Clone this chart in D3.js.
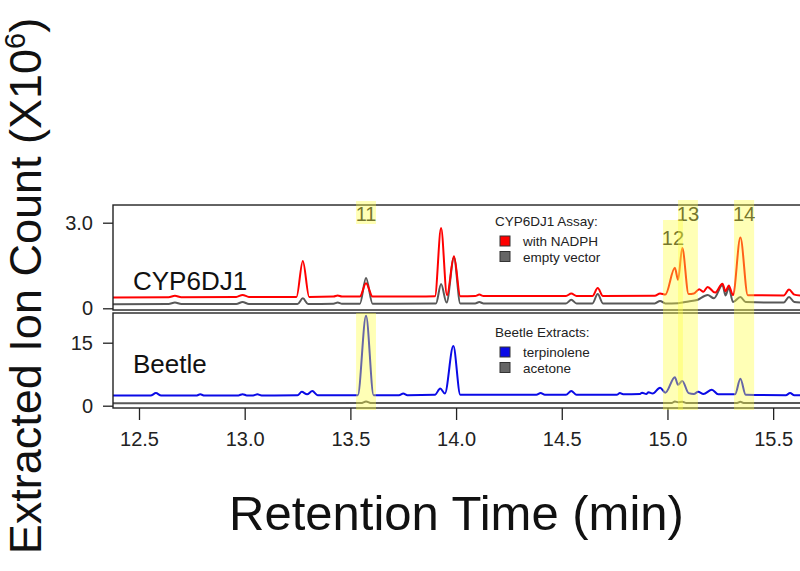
<!DOCTYPE html>
<html>
<head>
<meta charset="utf-8">
<script src="https://cdn.jsdelivr.net/npm/d3@7"></script>
<style>
	body { margin: 0; background: #fff; }
	svg { display: block; font-family: 'Liberation Sans', Arial, Helvetica, sans-serif; }
	.axis text { font-size: 20px; fill: #222; }
	.axis line { stroke: #222; stroke-width: 1.3; }
	.axis path { display: none; }
</style>
</head>
<body>
<div id="vis"></div>
<script>
// retention time (min), ion count (x10^6)
var nadphTrace = [
	[12.377, 0.38], [12.64, 0.39], [12.67, 0.44], [12.70, 0.39], [12.96, 0.40], [12.99, 0.47], [13.02, 0.40],
	[13.245, 0.40], [13.275, 1.66], [13.305, 0.40], [13.42, 0.41], [13.44, 0.45], [13.46, 0.41],
	[13.545, 0.41], [13.574, 0.88], [13.605, 0.41], [13.90, 0.42], [13.929, 2.81], [13.957, 0.46],
	[13.99, 1.82], [14.02, 0.42], [14.09, 0.43], [14.11, 0.48], [14.13, 0.43], [14.52, 0.43],
	[14.545, 0.52], [14.57, 0.43], [14.645, 0.43], [14.67, 0.71], [14.695, 0.43], [14.94, 0.44],
	[14.965, 0.52], [14.99, 0.48], [15.035, 1.42], [15.05, 1.0], [15.07, 2.11], [15.10, 0.50],
	[15.125, 0.52], [15.15, 0.67], [15.17, 0.58], [15.19, 0.75], [15.225, 0.55], [15.26, 0.86],
	[15.275, 0.60], [15.29, 0.80], [15.31, 0.46], [15.345, 2.48], [15.38, 0.46], [15.55, 0.45],
	[15.575, 0.66], [15.60, 0.48], [15.627, 0.45]
];

var emptyVectorTrace = [
	[12.377, 0.14], [12.64, 0.15], [12.67, 0.20], [12.70, 0.15], [12.96, 0.15], [12.99, 0.22], [13.02, 0.15],
	[13.25, 0.15], [13.275, 0.35], [13.30, 0.15], [13.42, 0.16], [13.44, 0.20], [13.46, 0.16],
	[13.545, 0.16], [13.574, 1.06], [13.605, 0.16], [13.905, 0.17], [13.929, 0.85], [13.955, 0.20],
	[13.99, 1.78], [14.02, 0.17], [14.09, 0.17], [14.11, 0.22], [14.13, 0.17], [14.52, 0.17],
	[14.545, 0.30], [14.57, 0.17], [14.645, 0.17], [14.67, 0.50], [14.695, 0.17], [14.94, 0.17],
	[14.965, 0.26], [14.99, 0.17], [15.05, 0.18], [15.10, 0.24], [15.14, 0.29], [15.19, 0.47],
	[15.22, 0.35], [15.26, 0.82], [15.275, 0.45], [15.29, 0.72], [15.31, 0.22], [15.345, 0.40],
	[15.37, 0.22], [15.55, 0.20], [15.575, 0.40], [15.60, 0.22], [15.627, 0.20]
];

var terpinoleneTrace = [
	[12.377, 2.4], [12.555, 2.4], [12.58, 3.0], [12.605, 2.4], [12.77, 2.4], [12.79, 2.7], [12.81, 2.4],
	[12.97, 2.45], [12.99, 2.75], [13.01, 2.45], [13.04, 2.45], [13.06, 2.7], [13.08, 2.45],
	[13.25, 2.5], [13.27, 3.3], [13.295, 2.7], [13.32, 3.5], [13.345, 2.5], [13.535, 2.5],
	[13.574, 21.4], [13.61, 2.5], [13.73, 2.5], [13.75, 2.9], [13.77, 2.5], [13.90, 2.6],
	[13.925, 4.1], [13.947, 2.9], [13.987, 14.2], [14.02, 2.6], [14.38, 2.6], [14.40, 3.0],
	[14.42, 2.6], [14.52, 2.6], [14.545, 3.5], [14.57, 2.6], [14.76, 2.6], [14.775, 3.0],
	[14.79, 2.7], [14.87, 2.8], [14.88, 3.1], [14.90, 2.8], [14.91, 3.2], [14.93, 2.9],
	[14.965, 4.3], [14.99, 3.1], [15.035, 6.8], [15.05, 5.0], [15.07, 5.9], [15.10, 3.0],
	[15.125, 2.8], [15.145, 3.3], [15.17, 2.8], [15.21, 3.8], [15.24, 2.7], [15.32, 2.7],
	[15.345, 6.4], [15.37, 2.6], [15.56, 2.5], [15.58, 3.0], [15.60, 2.5], [15.627, 2.5]
];

var acetoneTrace = [
	[12.377, 0.60], [13.55, 0.62], [13.574, 1.0], [13.60, 0.62], [15.02, 0.65], [15.035, 1.0],
	[15.05, 0.8], [15.07, 0.95], [15.09, 0.65], [15.33, 0.65], [15.345, 0.95], [15.36, 0.65],
	[15.627, 0.62]
];

var timeTicks = [12.5, 13.0, 13.5, 14.0, 14.5, 15.0, 15.5];
var topTicks = [0, 3.0];
var bottomTicks = [0, 15];

// highlighted compounds: label, start and end of the band (min)
var compoundLabels = ['11', '12', '13', '14'];
var bandStart = [13.527, 14.979, 15.05, 15.315];
var bandEnd = [13.621, 15.073, 15.144, 15.41];

var assayKeys = ['with NADPH', 'empty vector'];
var extractKeys = ['terpinolene', 'acetone'];

var width = 800,
	height = 571;

var margin = { left: 113, right: 0 };

var svg = d3.select('#vis')
	.append('svg')
	.attr('width', width)
	.attr('height', height);

var x = d3.scaleLinear()
	.domain([12.377, 15.627])
	.range([margin.left, width - margin.right]);

var yTop = d3.scaleLinear()
	.domain([0, 3])
	.range([308.3, 222.7]);

var yBottom = d3.scaleLinear()
	.domain([0, 15])
	.range([405.7, 342.7]);

var topExtent = [-0.06, 3.62],
	bottomExtent = [-0.55, 22.07];

var panels = [
	{ id: 'top', y: yTop, extent: topExtent, traces: [emptyVectorTrace, nadphTrace], colors: ['#585858', '#ff0000'] },
	{ id: 'bottom', y: yBottom, extent: bottomExtent, traces: [acetoneTrace, terpinoleneTrace], colors: ['#585858', '#0a0ae6'] }
];

var defs = svg.append('defs');

panels.forEach(function(p) {
	var y0 = p.y(p.extent[1]),
		y1 = p.y(p.extent[0]);

	defs.append('clipPath')
		.attr('id', 'clip-' + p.id)
	  .append('rect')
		.attr('x', x.range()[0])
		.attr('y', y0)
		.attr('width', x.range()[1] - x.range()[0])
		.attr('height', y1 - y0);

	var line = d3.line()
		.curve(d3.curveMonotoneX)
		.x(function(d) { return x(d[0]); })
		.y(function(d) { return p.y(d[1]); });

	svg.append('g')
		.attr('clip-path', 'url(#clip-' + p.id + ')')
	  .selectAll('path')
	  .data(p.traces)
	  .enter().append('path')
		.attr('d', line)
		.attr('fill', 'none')
		.attr('stroke', function(d, i) { return p.colors[i]; })
		.attr('stroke-width', 2)
		.attr('stroke-linejoin', 'round');

	svg.append('rect')
		.attr('x', x.range()[0])
		.attr('y', y0)
		.attr('width', x.range()[1] - x.range()[0] + 2)
		.attr('height', y1 - y0)
		.attr('fill', 'none')
		.attr('stroke', '#222')
		.attr('stroke-width', 1.4);
});

var fmt = function(d) { return d === 0 ? '0' : (d % 1 === 0 && d > 5 ? d : d3.format('.1f')(d)); };

svg.append('g')
	.attr('class', 'axis')
	.attr('transform', 'translate(' + margin.left + ',0)')
	.call(d3.axisLeft(yTop).tickValues(topTicks).tickSize(10).tickPadding(10).tickFormat(fmt));

svg.append('g')
	.attr('class', 'axis')
	.attr('transform', 'translate(' + margin.left + ',0)')
	.call(d3.axisLeft(yBottom).tickValues(bottomTicks).tickSize(10).tickPadding(10).tickFormat(fmt));

svg.append('g')
	.attr('class', 'axis')
	.attr('transform', 'translate(0,' + yBottom(bottomExtent[0]) + ')')
	.call(d3.axisBottom(x).tickValues(timeTicks).tickSize(12).tickPadding(12).tickFormat(d3.format('.1f')));

// panel names
svg.append('text')
	.attr('x', 133)
	.attr('y', 290)
	.attr('font-size', 26)
	.attr('fill', '#111')
	.text('CYP6DJ1');

svg.append('text')
	.attr('x', 133)
	.attr('y', 373)
	.attr('font-size', 26)
	.attr('fill', '#111')
	.text('Beetle');

// legends
var legends = [
	{ title: 'CYP6DJ1 Assay:', keys: assayKeys, colors: ['#ff0000', '#666666'], top: 226 },
	{ title: 'Beetle Extracts:', keys: extractKeys, colors: ['#0a0ae6', '#666666'], top: 337 }
];

legends.forEach(function(l) {
	var lg = svg.append('g')
		.attr('transform', 'translate(495,' + l.top + ')')
		.attr('font-size', 13.5)
		.attr('fill', '#222');

	lg.append('text').text(l.title);

	var item = lg.selectAll('.item')
		.data(l.keys)
	  .enter().append('g')
		.attr('class', 'item')
		.attr('transform', function(d, i) { return 'translate(0,' + (20 + i * 15.5) + ')'; });

	item.append('rect')
		.attr('x', 5)
		.attr('y', -10)
		.attr('width', 10)
		.attr('height', 10)
		.attr('fill', function(d, i) { return l.colors[i]; })
		.attr('stroke', '#333')
		.attr('stroke-width', 1);

	item.append('text')
		.attr('x', 28)
		.text(function(d) { return d; });
});

// compound numbers
var labelY = [221, 245, 221, 221];

svg.selectAll('.cmp')
	.data(compoundLabels)
  .enter().append('text')
	.attr('class', 'cmp')
	.attr('x', function(d, i) { return x((bandStart[i] + bandEnd[i]) / 2); })
	.attr('y', function(d, i) { return labelY[i]; })
	.attr('text-anchor', 'middle')
	.attr('font-size', 20)
	.attr('fill', '#222')
	.text(function(d) { return d; });

// yellow bands laid over the traces
var bandTop = [yBottom(bottomExtent[1]), 220, 200, 200],
	bandBottom = 410;

svg.selectAll('.band')
	.data(compoundLabels)
  .enter().append('rect')
	.attr('class', 'band')
	.attr('x', function(d, i) { return x(bandStart[i]); })
	.attr('width', function(d, i) { return x(bandEnd[i]) - x(bandStart[i]); })
	.attr('y', function(d, i) { return bandTop[i]; })
	.attr('height', function(d, i) { return bandBottom - bandTop[i]; })
	.attr('fill', '#ffff40')
	.attr('opacity', 0.38);

// small tag behind "11" in the upper panel
svg.append('rect')
	.attr('x', x(bandStart[0]))
	.attr('width', x(bandEnd[0]) - x(bandStart[0]))
	.attr('y', 201)
	.attr('height', 23)
	.attr('fill', '#ffff40')
	.attr('opacity', 0.38);

// axis titles
svg.append('text')
	.attr('x', (x.range()[0] + x.range()[1]) / 2)
	.attr('y', 530)
	.attr('text-anchor', 'middle')
	.attr('font-size', 49)
	.attr('fill', '#111')
	.text('Retention Time (min)');

var yTitle = svg.append('text')
	.attr('transform', 'translate(41,286) rotate(-90)')
	.attr('text-anchor', 'middle')
	.attr('font-size', 45)
	.attr('fill', '#111');

yTitle.append('tspan').text('Extracted Ion Count (X10');
yTitle.append('tspan').attr('font-size', 29).attr('dy', -16).text('6');
yTitle.append('tspan').attr('dy', 16).text(')');
</script>
</body>
</html>
